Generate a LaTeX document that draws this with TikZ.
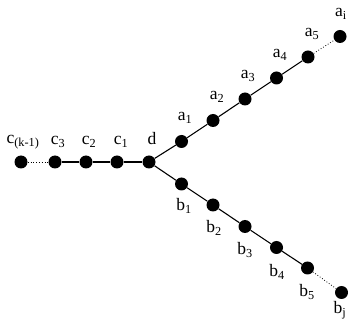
\documentclass[tikz,border=0pt]{standalone}
\usepackage{fontspec}
\setmainfont{Liberation Serif}
\begin{document}
\begin{tikzpicture}[x=1pt,y=-1pt,
  dot/.style={circle,fill=black,inner sep=0pt,minimum size=13pt},
  lab/.style={inner sep=0pt,font=\fontsize{17.5}{17.5}\selectfont},
  edge/.style={line width=1.1pt},
  dots/.style={line width=0.8pt,dotted}]
\clip (0,0) rectangle (348,320);
\useasboundingbox (0,0) rectangle (348,320);
% nodes
\node[dot] (ck) at (21,162) {};
\node[dot] (c3) at (55,162) {};
\node[dot] (c2) at (86,162) {};
\node[dot] (c1) at (117,162) {};
\node[dot] (d)  at (149,162) {};
\node[dot] (a1) at (181.5,141.5) {};
\node[dot] (a2) at (213,120.5) {};
\node[dot] (a3) at (245,99) {};
\node[dot] (a4) at (276.5,78) {};
\node[dot] (a5) at (308,57) {};
\node[dot] (ai) at (340,36.5) {};
\node[dot] (b1) at (181.5,184) {};
\node[dot] (b2) at (213,205) {};
\node[dot] (b3) at (245,226.5) {};
\node[dot] (b4) at (276.5,247.5) {};
\node[dot] (b5) at (307.5,268) {};
\node[dot] (bj) at (341.5,292.5) {};
% edges
\draw[dots] (ck) -- (c3);
\draw[edge] (c3) -- (c2) -- (c1) -- (d);
\draw[edge] (d) -- (a1) -- (a2) -- (a3) -- (a4) -- (a5);
\draw[dots] (a5) -- (ai);
\draw[edge] (d) -- (b1) -- (b2) -- (b3) -- (b4) -- (b5);
\draw[dots] (b5) -- (bj);
% labels
\node[lab] (lck) at (23,142) {c\textsubscript{(k-1)}};
\node[lab] (lc3) at (58,142) {c\textsubscript{3}};
\node[lab] (lc2) at (89,142) {c\textsubscript{2}};
\node[lab] (lc1) at (121,142) {c\textsubscript{1}};
\node[lab] (ld)  at (152,139) {d};
\node[lab] (la1) at (185,118) {a\textsubscript{1}};
\node[lab] (la2) at (217,97) {a\textsubscript{2}};
\node[lab] (la3) at (248,76) {a\textsubscript{3}};
\node[lab] (la4) at (280,55) {a\textsubscript{4}};
\node[lab] (la5) at (312,34) {a\textsubscript{5}};
\node[lab] (lai) at (341,14) {a\textsubscript{i}};
\node[lab] (lb1) at (184,206) {b\textsubscript{1}};
\node[lab] (lb2) at (214,228) {b\textsubscript{2}};
\node[lab] (lb3) at (245,250) {b\textsubscript{3}};
\node[lab] (lb4) at (277,272) {b\textsubscript{4}};
\node[lab] (lb5) at (307,292) {b\textsubscript{5}};
\node[lab] (lbj) at (340,310) {b\textsubscript{j}};
\end{tikzpicture}
\end{document}
